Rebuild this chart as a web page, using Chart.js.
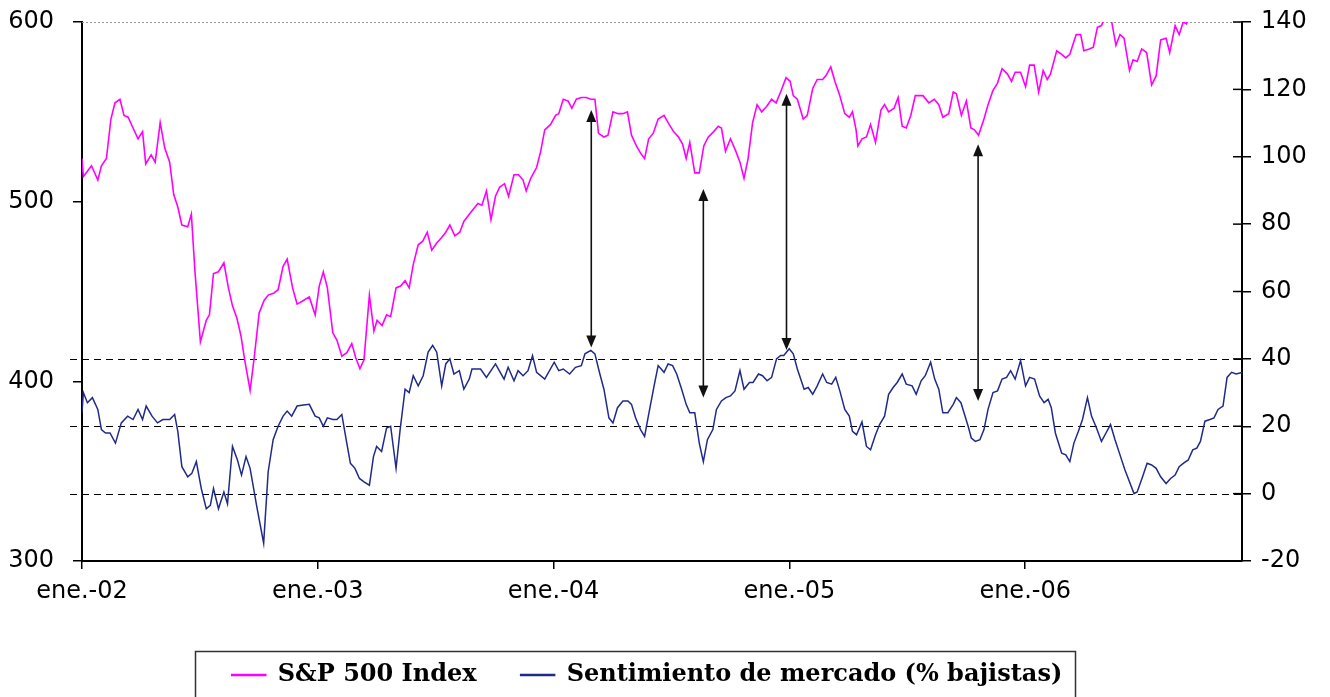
<!DOCTYPE html>
<html>
<head>
<meta charset="utf-8">
<script src="https://cdn.jsdelivr.net/npm/chart.js@4.4.1/dist/chart.umd.min.js"></script>
<style>
  body { margin: 0; background: #fff; }
  #wrap { width: 1330px; height: 697px; }
</style>
</head>
<body>
<div id="wrap"><canvas id="chart"></canvas></div>
<script>
// weeks counted from the first week of January 2002
const xTickWeeks = [0, 52.18, 104.36, 156.54, 208.72];
const xTickLabels = ['ene.-02', 'ene.-03', 'ene.-04', 'ene.-05', 'ene.-06'];

const spWeeks = [0, 0.3, 2.1, 3.5, 4.3, 5.4, 6.4, 7.3, 8.4, 9.3, 10.2, 11.3, 12.4, 13.4, 14.1, 15.3, 16.2, 17.3, 18.3, 19.4,
  20.3, 21.2, 22.1, 23.4, 24.2, 25.0, 26.2, 27.5, 28.2, 29.1, 30.2, 31.4, 32.4, 33.3, 34.3, 35.2, 36.0, 37.2, 38.1, 39.2,
  40.3, 41.2, 42.4, 43.4, 44.5, 45.4, 46.6, 47.6, 49.0, 50.3, 51.6, 52.5, 53.4, 54.3, 55.5, 56.4, 57.5, 58.6, 59.7, 60.6,
  61.5, 62.4, 63.6, 64.6, 65.3, 66.4, 67.4, 68.3, 69.5, 70.5, 71.5, 72.4, 73.3, 74.4, 75.4, 76.4, 77.4, 78.5, 79.6, 80.5,
  81.4, 82.5, 83.6, 84.5, 86.0, 87.6, 88.5, 89.5, 90.5, 91.5, 92.4, 93.5, 94.4, 95.6, 96.6, 97.6, 98.3, 99.3, 100.6, 101.5,
  102.4, 103.7, 104.8, 105.5, 106.5, 107.6, 108.4, 109.4, 110.5, 111.6, 112.6, 113.5, 114.3, 115.5, 116.4, 117.5, 118.6, 119.7, 120.7, 121.6,
  122.7, 123.6, 124.5, 125.4, 126.4, 127.5, 128.8, 129.7, 130.9, 132.0, 132.9, 133.7, 134.5, 135.6, 136.6, 137.6, 138.6, 139.8, 140.8, 141.5,
  142.4, 143.5, 144.7, 145.6, 146.5, 147.4, 148.4, 149.4, 150.4, 151.5, 152.6, 153.6, 154.6, 155.8, 156.7, 157.4, 158.3, 159.6, 160.5, 161.7,
  162.7, 163.9, 164.6, 165.7, 166.6, 167.7, 168.8, 169.8, 170.5, 171.3, 171.7, 172.6, 173.6, 174.5, 175.6, 176.8, 177.6, 178.5, 179.7, 180.6,
  181.5, 182.4, 183.4, 184.4, 186.1, 187.4, 188.6, 189.6, 190.5, 191.8, 192.8, 193.5, 194.6, 195.7, 196.7, 197.5, 198.4, 199.6, 200.5, 201.6,
  202.6, 203.6, 204.8, 205.7, 206.5, 207.7, 208.8, 209.7, 210.7, 211.7, 212.7, 213.6, 214.3, 215.7, 216.8, 217.7, 218.6, 220.0, 221.0, 221.7,
  222.9, 223.8, 224.7, 225.6, 226.6, 227.8, 228.8, 229.7, 230.6, 231.8, 232.6, 233.5, 234.5, 235.6, 236.7, 237.7, 238.7, 239.9, 240.7, 241.9,
  242.8, 243.7, 244.4, 245.3];
const spIndex = [524, 514, 520, 512, 520, 524, 546, 555, 557, 548, 547, 541, 535, 539, 521, 526, 522, 544, 530, 522,
  504, 497, 487, 486, 493, 461, 422, 434, 437, 460, 461, 466, 452, 442, 435, 425, 412, 395, 413, 438,
  445, 448, 449, 451, 464, 468, 452, 443, 445, 447, 437, 453, 461, 452, 427, 423, 414, 416, 421, 413,
  407, 412, 448, 428, 434, 431, 437, 436, 452, 453, 456, 452, 465, 476, 478, 483, 473, 477, 480, 483,
  487, 481, 483, 489, 494, 499, 498, 506, 490, 503, 508, 510, 503, 515, 515, 512, 506, 513, 519, 528,
  540, 543, 548, 549, 557, 556, 552, 557, 558, 558, 557, 557, 538, 536, 537, 550, 549, 549, 550, 537,
  531, 527, 524, 535, 538, 546, 548, 544, 539, 536, 532, 524, 533, 516, 516, 531, 536, 539, 542, 541,
  528, 535, 528, 522, 513, 524, 544, 554, 550, 553, 557, 555, 561, 569, 567, 559, 557, 546, 548, 563,
  568, 568, 570, 575, 567, 559, 549, 547, 550, 540, 531, 535, 536, 543, 533, 551, 554, 550, 552, 558,
  542, 541, 548, 559, 559, 555, 557, 554, 547, 549, 561, 560, 548, 556, 541, 540, 537, 546, 554, 562,
  566, 574, 571, 567, 572, 572, 564, 576, 576, 561, 573, 568, 571, 584, 582, 580, 582, 593, 593, 584,
  585, 586, 597, 598, 604, 601, 587, 593, 591, 573, 579, 578, 585, 583, 565, 570, 590, 591, 583, 598,
  593, 600, 599, 606];

const sentWeeks = [0, 0.3, 1.2, 2.3, 3.5, 4.3, 5.2, 6.2, 7.4, 8.7, 10.1, 11.3, 12.4, 13.4, 14.2, 15.5, 16.7, 17.9, 19.4, 20.5,
  21.2, 22.1, 23.4, 24.3, 25.3, 26.4, 27.5, 28.4, 29.1, 30.2, 31.4, 32.2, 33.3, 34.4, 35.3, 36.3, 37.2, 38.7, 40.2, 41.2,
  42.3, 43.4, 44.5, 45.4, 46.4, 47.6, 49.0, 50.3, 51.6, 52.5, 53.4, 54.3, 55.5, 56.4, 57.5, 58.4, 59.4, 60.4, 61.4, 62.4,
  63.6, 64.5, 65.2, 66.3, 67.4, 68.3, 69.5, 70.4, 71.5, 72.4, 73.3, 74.4, 75.5, 76.6, 77.6, 78.5, 79.6, 80.5, 81.4, 82.3,
  83.5, 84.5, 85.7, 86.3, 88.2, 89.5, 91.5, 93.4, 94.3, 95.6, 96.5, 97.6, 98.7, 99.7, 100.6, 102.4, 104.5, 105.5, 106.5, 107.9,
  109.2, 110.5, 111.3, 112.6, 113.5, 114.6, 115.5, 116.6, 117.5, 118.5, 119.7, 120.8, 121.6, 122.5, 123.6, 124.5, 125.4, 126.6, 127.5, 128.8,
  129.7, 130.7, 131.6, 132.7, 133.7, 134.5, 135.6, 136.6, 137.5, 138.4, 139.6, 140.4, 141.5, 142.5, 143.5, 144.5, 145.6, 146.5, 147.7, 148.5,
  149.7, 150.6, 151.6, 152.6, 153.7, 154.6, 155.3, 156.5, 157.4, 158.3, 159.8, 160.7, 161.7, 162.7, 163.9, 164.8, 165.9, 166.8, 167.7, 168.8,
  169.8, 170.5, 171.4, 172.6, 173.6, 174.5, 175.6, 176.5, 177.6, 178.5, 179.5, 180.4, 181.5, 182.4, 183.7, 184.6, 185.7, 186.6, 187.8, 188.7,
  189.6, 190.5, 191.6, 192.8, 193.5, 194.5, 195.3, 196.1, 196.8, 197.7, 198.7, 199.6, 200.5, 201.6, 202.6, 203.6, 204.6, 205.5, 206.5, 207.7,
  208.8, 209.7, 210.8, 211.9, 212.9, 213.8, 214.5, 215.4, 216.8, 217.7, 218.6, 219.5, 220.5, 221.4, 222.5, 223.4, 224.5, 225.6, 226.6, 227.6,
  228.6, 229.7, 230.8, 231.8, 232.8, 233.5, 234.7, 235.7, 236.7, 237.7, 238.7, 239.9, 240.9, 241.9, 242.8, 243.7, 244.8, 245.8, 246.7, 247.5,
  248.5, 249.6, 250.5, 251.4, 252.5, 253.4, 254.4, 255.4, 256.7];
const sentIndex = [24, 30, 27, 28.5, 25, 19, 18, 18, 15, 21, 23, 22, 25, 22, 26, 23, 21, 22, 22, 23.5,
  18.5, 8, 5, 6, 9.5, 1.5, -4.5, -3.5, 1.5, -4.5, 0.5, -3, 14, 10, 5.5, 11, 7.5, -4, -14.7, 6.5,
  16, 20, 23, 24.5, 23, 26, 26.3, 26.5, 23, 22.5, 20, 22.5, 22, 22, 23.5, 16.5, 9, 7.5, 4.5, 3.5,
  2.5, 11, 14, 12.5, 19.5, 20, 7.5, 19, 31, 30, 35, 32, 35, 42, 44, 42, 32, 38.5, 40, 35.5,
  36.5, 31, 34, 37, 37, 34.5, 38.5, 34, 37.5, 33.5, 36.5, 35, 36.5, 41, 36, 34, 39, 36.5, 37, 35.5,
  37.5, 38, 41.5, 42.5, 41.5, 35.5, 31, 22.5, 21, 25.5, 27.5, 27.5, 26.5, 22.5, 19, 17, 23.5, 32, 38, 36,
  38.5, 38, 35.5, 31, 26.5, 24, 24, 15, 9.5, 16, 19, 25, 27.5, 28.5, 29, 30.5, 36.5, 31, 33, 33,
  35.5, 35, 33.5, 34.5, 40, 41, 41, 43, 41.5, 37, 31, 31.5, 29.5, 32, 35.5, 33, 32.5, 34.5, 30.5, 25,
  23, 18.5, 17.5, 21.3, 14, 13, 17.5, 20.5, 23, 29.5, 31.5, 33, 35.5, 32.5, 32, 29.5, 33.5, 35, 39, 34,
  31, 24, 24, 26.5, 28.5, 27, 23.5, 20, 16.5, 15.5, 16, 19, 25, 30, 30.5, 34, 34.5, 36.5, 34, 39.5,
  32, 34.5, 34, 29, 27, 28, 25.5, 18, 12, 11.5, 9.5, 15, 18.5, 22, 28.5, 23, 19.5, 15.5, 18, 20.5,
  16, 11.5, 7, 3.5, 0, 0.5, 5, 9, 8.5, 7.5, 5, 3, 4.5, 5.5, 8, 9, 10, 13, 13.5, 15.5,
  21.5, 22, 22.5, 25, 26, 34.5, 36, 35.5, 36];

// reference levels of the sentiment axis (dashed lines)
const sentLevels = [0, 20, 40];

// double arrows: week, S&P end, sentiment end
const arrowWeeks = [112.7, 137.5, 155.9, 198.3];
const arrowSp = [551, 507, 560, 532];
const arrowSent = [43.4, 28.5, 42.6, 27.5];

const spColor = '#ff00ff';
const sentColor = '#202a88';

// keep label overflow from moving the plot area
const noPad = scale => {
  scale.paddingTop = 0;
  scale.paddingBottom = 0;
};

const overlay = {
  id: 'overlay',
  afterLayout(chart) {
    // legend sits a bit left of centre in the original
    chart.legend.left -= 18;
    chart.legend.right -= 18;
  },
  beforeDatasetsDraw(chart) {
    const { ctx, chartArea, scales } = chart;
    ctx.save();
    // dotted top border
    ctx.strokeStyle = '#9a9a9a';
    ctx.lineWidth = 1;
    ctx.setLineDash([2, 2]);
    ctx.beginPath();
    ctx.moveTo(chartArea.left, chartArea.top + 0.5);
    ctx.lineTo(chartArea.right, chartArea.top + 0.5);
    ctx.stroke();
    // dashed sentiment levels
    ctx.strokeStyle = '#000';
    ctx.lineWidth = 1.2;
    ctx.setLineDash([7, 5]);
    sentLevels.forEach(v => {
      const y = Math.round(scales.y1.getPixelForValue(v)) + 0.5;
      ctx.beginPath();
      ctx.moveTo(chartArea.left - 12, y);
      ctx.lineTo(chartArea.right, y);
      ctx.stroke();
    });
    ctx.setLineDash([]);
    // inner ticks of the right axis
    ctx.lineWidth = 1.5;
    scales.y1.ticks.forEach(t => {
      const y = scales.y1.getPixelForValue(t.value);
      ctx.beginPath();
      ctx.moveTo(chartArea.right - 9, y);
      ctx.lineTo(chartArea.right, y);
      ctx.stroke();
    });
    ctx.restore();
  },
  afterDatasetsDraw(chart) {
    const { ctx, scales } = chart;
    ctx.save();
    ctx.strokeStyle = '#111';
    ctx.fillStyle = '#111';
    ctx.lineWidth = 1.6;
    const head = (x, y, dir) => {
      ctx.beginPath();
      ctx.moveTo(x, y);
      ctx.lineTo(x - 5, y + dir * 12);
      ctx.lineTo(x + 5, y + dir * 12);
      ctx.closePath();
      ctx.fill();
    };
    arrowWeeks.forEach((w, i) => {
      const x = scales.x.getPixelForValue(w);
      const y1 = scales.y.getPixelForValue(arrowSp[i]);
      const y2 = scales.y1.getPixelForValue(arrowSent[i]);
      ctx.beginPath();
      ctx.moveTo(x, y1 + 10);
      ctx.lineTo(x, y2 - 10);
      ctx.stroke();
      head(x, y1, 1);
      head(x, y2, -1);
    });
    ctx.restore();
  },
  afterDraw(chart) {
    const { ctx } = chart;
    ctx.save();
    ctx.strokeStyle = '#333';
    ctx.lineWidth = 1.5;
    ctx.strokeRect(195.5, 651.5, 880, 80);
    ctx.restore();
  }
};

new Chart(document.getElementById('chart'), {
  type: 'line',
  data: {
    datasets: [{
      label: 'S&P 500 Index',
      data: spWeeks.map((w, i) => ({ x: w, y: spIndex[i] })),
      yAxisID: 'y',
      borderColor: spColor,
      backgroundColor: spColor,
      borderWidth: 1.6,
      pointRadius: 0,
      tension: 0
    }, {
      label: 'Sentimiento de mercado (% bajistas)',
      data: sentWeeks.map((w, i) => ({ x: w, y: sentIndex[i] })),
      yAxisID: 'y1',
      borderColor: sentColor,
      backgroundColor: sentColor,
      borderWidth: 1.5,
      pointRadius: 0,
      tension: 0
    }]
  },
  options: {
    responsive: true,
    maintainAspectRatio: false,
    animation: false,
    layout: { padding: { top: 22, left: 0, right: 0, bottom: 0 } },
    scales: {
      x: {
        type: 'linear',
        min: 0,
        max: 256.7,
        afterBuildTicks: scale => { scale.ticks = xTickWeeks.map(v => ({ value: v })); },
        afterFit: scale => { scale.height = 58; },
        grid: { drawOnChartArea: false, tickLength: 8, color: '#000', lineWidth: 1.5 },
        border: { color: '#000', width: 2 },
        ticks: {
          autoSkip: false,
          maxRotation: 0,
          padding: 8,
          color: '#000',
          font: { family: 'DejaVu Sans', size: 24 },
          callback: (v, i) => xTickLabels[i]
        }
      },
      y: {
        position: 'left',
        min: 300,
        max: 600,
        afterFit: scale => { scale.width = 82; noPad(scale); },
        grid: { drawOnChartArea: false, tickLength: 9, color: '#000', lineWidth: 1.5 },
        border: { color: '#000', width: 2 },
        ticks: {
          stepSize: 100,
          padding: 19,
          color: '#000',
          font: { family: 'DejaVu Sans', size: 24 }
        }
      },
      y1: {
        position: 'right',
        min: -20,
        max: 140,
        afterFit: scale => { scale.width = 88; noPad(scale); },
        grid: { drawOnChartArea: false, tickLength: 9, color: '#000', lineWidth: 1.5 },
        border: { color: '#000', width: 2 },
        ticks: {
          stepSize: 20,
          padding: 10,
          color: '#000',
          font: { family: 'DejaVu Sans', size: 24 }
        }
      }
    },
    plugins: {
      legend: {
        position: 'bottom',
        labels: {
          boxWidth: 34,
          boxHeight: 1,
          padding: 44,
          color: '#000',
          font: { family: 'DejaVu Serif', weight: 'bold', size: 24 }
        }
      },
      tooltip: { enabled: false }
    }
  },
  plugins: [overlay]
});
</script>
</body>
</html>
